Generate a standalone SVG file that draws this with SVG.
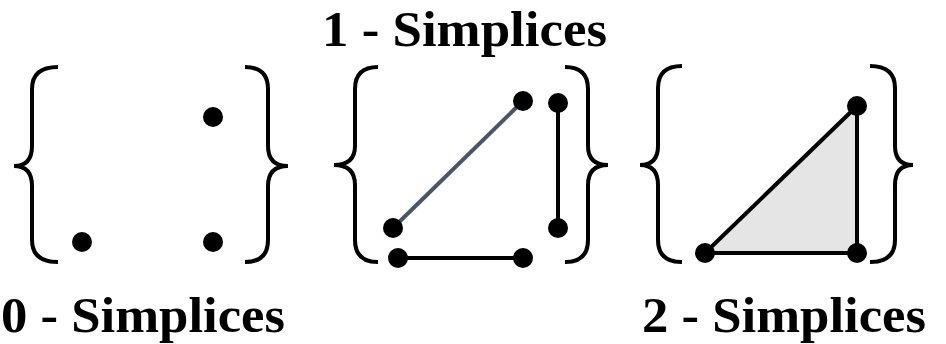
<svg xmlns="http://www.w3.org/2000/svg" width="946" height="344" viewBox="0 0 946 344">
<style>
.br{fill:none;stroke:#000;stroke-width:4;stroke-linecap:butt}
.dot{fill:#000}
.e{stroke:#000;stroke-width:4;fill:none}
.lbl{font-family:"Liberation Serif","Times New Roman",serif;font-weight:bold;font-size:51px;fill:#000}
</style>
<rect width="946" height="344" fill="#fff"/>
<g id="group0">
<path class="br" d="M58,67 Q32,67 32,89 L32,146 Q32,166 14,166 Q32,166 32,186 L32,240 Q32,262 58,262"/>
<path class="br" d="M245,67 Q268,67 268,89 L268,146 Q268,166 288,166 Q268,166 268,186 L268,240 Q268,262 245,262"/>
<circle class="dot" cx="213" cy="117" r="10"/>
<circle class="dot" cx="82" cy="242" r="10"/>
<circle class="dot" cx="213" cy="242" r="10"/>
</g>
<g id="group1">
<path class="br" d="M378,67 Q355,67 355,89 L355,146 Q355,165 334,165 Q355,165 355,185 L355,240 Q355,262 378,262"/>
<path class="br" d="M565,67 Q588,67 588,89 L588,146 Q588,165 608,165 Q588,165 588,185 L588,240 Q588,262 565,262"/>
<g id="connectors1">
<line x1="393" y1="228" x2="523" y2="101" stroke="#4a5568" stroke-width="4"/>
<line class="e" x1="558" y1="103" x2="558" y2="228"/>
<line class="e" x1="398" y1="258" x2="523" y2="258"/>
</g>
<circle class="dot" cx="523" cy="101" r="10"/>
<circle class="dot" cx="558" cy="103" r="10"/>
<circle class="dot" cx="393" cy="228" r="10"/>
<circle class="dot" cx="558" cy="228" r="10"/>
<circle class="dot" cx="398" cy="258" r="10"/>
<circle class="dot" cx="523" cy="258" r="10"/>
</g>
<g id="group2">
<path class="br" d="M682,66 Q658,66 658,88 L658,146 Q658,165 640,165 Q658,165 658,185 L658,240 Q658,262 682,262"/>
<path class="br" d="M870,66 Q895,66 895,88 L895,146 Q895,165 913,165 Q895,165 895,185 L895,240 Q895,262 870,262"/>
<polygon points="857,106 705,253 857,253" fill="#e5e5e5" stroke="#000" stroke-width="4" stroke-linejoin="round"/>
<circle class="dot" cx="857" cy="106" r="10"/>
<circle class="dot" cx="705" cy="253" r="10"/>
<circle class="dot" cx="857" cy="253" r="10"/>
</g>
<g id="labels">
<text class="lbl" x="322" y="46" textLength="285" lengthAdjust="spacingAndGlyphs">1 - Simplices</text>
<text class="lbl" x="1" y="332" textLength="284" lengthAdjust="spacingAndGlyphs">0 - Simplices</text>
<text class="lbl" x="642" y="332" textLength="284" lengthAdjust="spacingAndGlyphs">2 - Simplices</text>
</g>
</svg>
